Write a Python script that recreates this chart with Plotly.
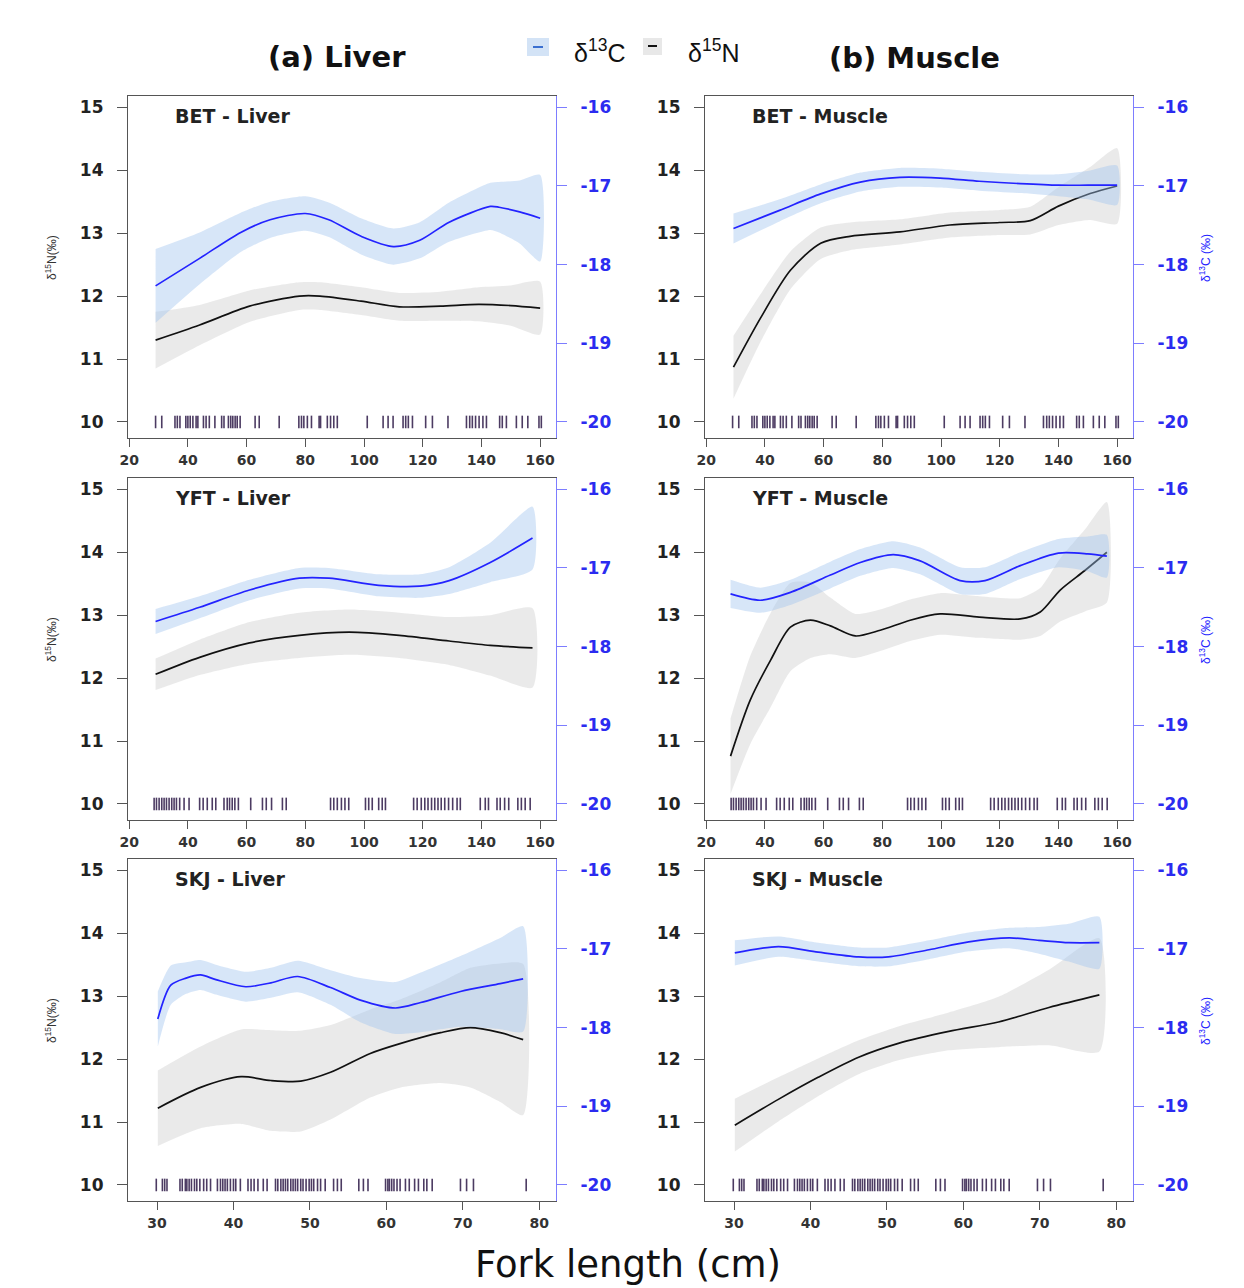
import plotly.graph_objects as go

W, H = 1244, 1288

# ---------------- data ----------------
RUG_BET = [29.0, 31.1, 35.6, 36.4, 37.3, 39.3, 40.0, 40.8, 41.7, 42.8, 43.4, 45.3, 46.2, 47.3, 49.2, 51.5,
           52.3, 53.8, 54.6, 55.3, 56.1, 56.8, 57.8, 62.9, 64.3, 71.1, 77.8, 78.7, 79.5, 80.7, 82.1,
           84.7, 85.2, 87.5, 88.6, 89.7, 90.9, 101.1, 106.5, 108.2, 109.9, 113.3, 114.2, 115.1,
           116.5, 121.0, 123.3, 128.6, 134.9, 136.0, 136.9, 138.0, 139.2, 140.5, 141.7, 146.2,
           147.1, 148.5, 151.9, 153.9, 155.8, 159.6, 160.4]
RUG_YFT = [28.5, 29.3, 30.2, 31.1, 31.9, 32.7, 33.6, 34.5, 35.3, 36.1, 37.2, 38.7, 40.4, 44.0, 45.2,
           46.6, 48.3, 49.5, 52.3, 53.4, 54.2, 55.1, 56.0, 57.2, 61.4, 65.4, 66.7, 68.5, 72.2, 73.5,
           88.6, 89.7, 90.9, 92.3, 93.5, 94.8, 100.5, 101.6, 102.8, 105.0, 106.2, 107.3, 116.9,
           118.1, 119.5, 120.7, 121.8, 123.0, 124.1, 125.2, 126.3, 127.5, 128.8, 130.2, 131.7,
           132.8, 139.6, 141.3, 142.4, 145.3, 146.4, 147.9, 149.3, 152.4, 153.6, 154.9, 156.6]
RUG_SKJ = [29.9, 30.7, 31.0, 31.3, 33.0, 33.3, 33.7, 33.9, 34.2, 34.5, 34.9, 35.2, 35.6, 36.1, 36.5,
           37.0, 37.9, 38.3, 38.6, 38.9, 39.2, 39.6, 40.0, 40.3, 40.9, 41.9, 42.3, 42.7, 43.2, 43.9,
           44.4, 45.5, 45.8, 46.2, 46.5, 46.8, 47.1, 47.5, 47.8, 48.1, 48.4, 48.8, 49.1, 49.5, 49.9,
           50.2, 50.5, 51.0, 51.4, 52.0, 53.1, 53.6, 54.1, 56.4, 57.0, 57.6, 59.9, 60.2, 60.4, 60.7,
           61.0, 61.4, 61.8, 62.5, 63.0, 63.7, 64.2, 64.9, 65.3, 66.0, 69.7, 70.5, 71.4, 78.3]

# BET - Liver
BL_XC = [29, 44, 58, 68, 80, 88, 99, 110, 119, 129, 143, 146, 153, 160]
BL_C = [-18.27, -17.92, -17.59, -17.43, -17.35, -17.43, -17.64, -17.77, -17.69, -17.46, -17.26, -17.27, -17.33, -17.41]
BL_CSE = [0.47, 0.33, 0.25, 0.23, 0.22, 0.22, 0.23, 0.23, 0.23, 0.25, 0.30, 0.32, 0.40, 0.55]
BL_XN = [29, 44, 61, 78, 85, 99, 112, 126, 139, 150, 160]
BL_N = [11.30, 11.54, 11.84, 12.00, 12.00, 11.92, 11.83, 11.84, 11.87, 11.85, 11.81]
BL_NSE = [0.45, 0.32, 0.25, 0.22, 0.22, 0.22, 0.22, 0.23, 0.27, 0.32, 0.42]

# BET - Muscle
BM_XC = [29.3, 45, 59, 72.5, 86, 99.7, 113, 127, 140, 150, 160]
BM_C = [-17.54, -17.31, -17.10, -16.95, -16.89, -16.90, -16.94, -16.97, -16.99, -16.99, -16.99]
BM_CSE = [0.19, 0.14, 0.12, 0.12, 0.12, 0.12, 0.12, 0.12, 0.14, 0.18, 0.25]
BM_XN = [29.3, 38.5, 48.7, 59, 69, 86, 103, 120, 130.4, 140, 150.8, 160]
BM_N = [10.87, 11.65, 12.41, 12.84, 12.95, 13.02, 13.13, 13.17, 13.20, 13.43, 13.63, 13.75]
BM_NSE = [0.5, 0.38, 0.3, 0.25, 0.22, 0.2, 0.2, 0.2, 0.22, 0.3, 0.42, 0.6]

# YFT - Liver
YL_XC = [29, 44, 61, 78, 88, 105, 119, 129, 143, 157.4]
YL_C = [-17.68, -17.50, -17.28, -17.13, -17.13, -17.22, -17.23, -17.16, -16.93, -16.62]
YL_CSE = [0.16, 0.14, 0.13, 0.13, 0.13, 0.14, 0.15, 0.17, 0.25, 0.40]
YL_XN = [29, 44, 61, 78, 95, 112, 129, 143, 157.4]
YL_N = [12.06, 12.33, 12.56, 12.68, 12.73, 12.68, 12.59, 12.52, 12.48]
YL_NSE = [0.25, 0.28, 0.33, 0.36, 0.36, 0.36, 0.38, 0.48, 0.63]

# YFT - Muscle
YM_XC = [28.3, 38.5, 48.7, 62.3, 72.5, 83.7, 92.9, 106.5, 115, 127, 140, 150, 156.5]
YM_C = [-17.33, -17.41, -17.31, -17.09, -16.93, -16.83, -16.91, -17.16, -17.16, -16.97, -16.81, -16.82, -16.85]
YM_CSE = [0.18, 0.16, 0.16, 0.17, 0.17, 0.17, 0.17, 0.17, 0.17, 0.17, 0.18, 0.22, 0.27]
YM_XN = [28.3, 35, 42, 48.7, 55.5, 62.3, 70.8, 79.3, 89.5, 99.7, 113, 127, 133.8, 140.6, 149, 156.5]
YM_N = [10.76, 11.65, 12.29, 12.81, 12.92, 12.83, 12.67, 12.76, 12.92, 13.02, 12.97, 12.94, 13.05, 13.40, 13.71, 14.0]
YM_NSE = [0.6, 0.7, 0.75, 0.7, 0.6, 0.45, 0.35, 0.33, 0.33, 0.33, 0.33, 0.33, 0.38, 0.5, 0.65, 0.8]

# SKJ - Liver
SL_XC = [30.1, 31.8, 33.8, 35.7, 37.7, 41.6, 44.9, 48.4, 52.7, 56.6, 61.2, 64.5, 69.7, 74.9, 77.9]
SL_C = [-17.89, -17.46, -17.37, -17.33, -17.39, -17.48, -17.43, -17.35, -17.49, -17.65, -17.75, -17.68, -17.54, -17.44, -17.38]
SL_CSE = [0.35, 0.25, 0.2, 0.19, 0.19, 0.19, 0.19, 0.2, 0.22, 0.28, 0.33, 0.38, 0.45, 0.58, 0.67]
SL_XN = [30.1, 35.7, 41, 44.9, 48.8, 52.7, 57.9, 61.9, 67.1, 71, 74.9, 77.9]
SL_N = [11.22, 11.55, 11.72, 11.66, 11.65, 11.79, 12.09, 12.25, 12.42, 12.50, 12.42, 12.31]
SL_NSE = [0.6, 0.65, 0.75, 0.8, 0.8, 0.75, 0.7, 0.7, 0.8, 0.95, 1.1, 1.2]

# SKJ - Muscle
SM_XC = [30.1, 35.8, 41, 46.3, 50.2, 55.5, 60.7, 66, 69.9, 73.8, 77.8]
SM_C = [-17.05, -16.97, -17.04, -17.10, -17.10, -17.01, -16.91, -16.86, -16.89, -16.92, -16.92]
SM_CSE = [0.16, 0.13, 0.12, 0.12, 0.12, 0.12, 0.12, 0.13, 0.17, 0.24, 0.33]
SM_XN = [30.1, 35.8, 41, 46.3, 51.5, 58.1, 64.6, 71.2, 77.8]
SM_N = [10.95, 11.36, 11.71, 12.03, 12.25, 12.44, 12.59, 12.82, 13.02]
SM_NSE = [0.42, 0.35, 0.3, 0.27, 0.27, 0.3, 0.4, 0.6, 0.9]

N_TICKS = [10, 11, 12, 13, 14, 15]
C_TICKS = [-20, -19, -18, -17, -16]
X_TICKS_LONG = [20, 40, 60, 80, 100, 120, 140, 160]
X_TICKS_SHORT = [30, 40, 50, 60, 70, 80]

PANELS = [
    dict(label="BET - Liver", row=0, col=0, xc=BL_XC, c=BL_C, cse=BL_CSE, xn=BL_XN, n=BL_N, nse=BL_NSE, rug=RUG_BET),
    dict(label="BET - Muscle", row=0, col=1, xc=BM_XC, c=BM_C, cse=BM_CSE, xn=BM_XN, n=BM_N, nse=BM_NSE, rug=RUG_BET),
    dict(label="YFT - Liver", row=1, col=0, xc=YL_XC, c=YL_C, cse=YL_CSE, xn=YL_XN, n=YL_N, nse=YL_NSE, rug=RUG_YFT),
    dict(label="YFT - Muscle", row=1, col=1, xc=YM_XC, c=YM_C, cse=YM_CSE, xn=YM_XN, n=YM_N, nse=YM_NSE, rug=RUG_YFT),
    dict(label="SKJ - Liver", row=2, col=0, xc=SL_XC, c=SL_C, cse=SL_CSE, xn=SL_XN, n=SL_N, nse=SL_NSE, rug=RUG_SKJ),
    dict(label="SKJ - Muscle", row=2, col=1, xc=SM_XC, c=SM_C, cse=SM_CSE, xn=SM_XN, n=SM_N, nse=SM_NSE, rug=RUG_SKJ),
]

# ---------------- layout geometry (pixels) ----------------
COL_LEFT = [128, 705]
BOX_W = 428
ROW_TOP = [96, 478, 859]
BOX_H = 342
N_RANGE = [9.745, 15.18]
C_RANGE = [-20 + (N_RANGE[0] - 10) * 0.8, -20 + (N_RANGE[1] - 10) * 0.8]

BLUE = "#2323ff"
BLUE_TXT = "#2b2bf0"
BLUE_AXIS = "#7d7dff"
BLUE_BAND = "rgba(160,195,238,0.42)"
GRAY_BAND = "rgba(200,200,200,0.38)"
FONT = "Liberation Sans, Arial, sans-serif"
WFONT = "DejaVu Sans, Liberation Sans, sans-serif"

fig = go.Figure()
layout = {}
annotations = []
shapes = []


def px(x):
    return x / W


def py(y):
    return 1 - y / H


for i, p in enumerate(PANELS):
    xa = "x" if i == 0 else f"x{i+1}"
    yl_n, yr_n = 2 * i + 1, 2 * i + 2
    yl = "y" if yl_n == 1 else f"y{yl_n}"
    yr = f"y{yr_n}"

    upper_n = [v + s for v, s in zip(p["n"], p["nse"])]
    lower_n = [v - s for v, s in zip(p["n"], p["nse"])]
    upper_c = [v + s for v, s in zip(p["c"], p["cse"])]
    lower_c = [v - s for v, s in zip(p["c"], p["cse"])]

    fig.add_trace(go.Scatter(x=p["xn"] + p["xn"][::-1], y=upper_n + lower_n[::-1], fill="toself",
                             fillcolor=GRAY_BAND, line=dict(width=0, shape="spline", smoothing=0.6),
                             mode="lines", hoverinfo="skip", showlegend=False, xaxis=xa, yaxis=yl))
    fig.add_trace(go.Scatter(x=p["xn"], y=p["n"], mode="lines",
                             line=dict(color="#111111", width=1.7, shape="spline", smoothing=0.8),
                             showlegend=False, xaxis=xa, yaxis=yl))
    fig.add_trace(go.Scatter(x=p["rug"], y=[10] * len(p["rug"]), mode="markers",
                             marker=dict(symbol="line-ns", size=9, line=dict(width=1.6, color="rgba(45,25,70,0.85)")),
                             showlegend=False, xaxis=xa, yaxis=yl))
    fig.add_trace(go.Scatter(x=p["xc"] + p["xc"][::-1], y=upper_c + lower_c[::-1], fill="toself",
                             fillcolor=BLUE_BAND, line=dict(width=0, shape="spline", smoothing=0.6),
                             mode="lines", hoverinfo="skip", showlegend=False, xaxis=xa, yaxis=yr))
    fig.add_trace(go.Scatter(x=p["xc"], y=p["c"], mode="lines",
                             line=dict(color=BLUE, width=1.7, shape="spline", smoothing=0.8),
                             showlegend=False, xaxis=xa, yaxis=yr))

    x0 = COL_LEFT[p["col"]]
    y0 = ROW_TOP[p["row"]]
    xdom = [px(x0), px(x0 + BOX_W)]
    ydom = [py(y0 + BOX_H), py(y0)]
    if p["row"] < 2:
        xr, xt = [19.6, 165.4], X_TICKS_LONG
    else:
        xr, xt = [26.2, 82.2], X_TICKS_SHORT

    layout["xaxis" if i == 0 else f"xaxis{i+1}"] = dict(
        domain=xdom, range=xr, anchor=yl, tickvals=xt, showline=True, mirror=True,
        linecolor="#555555", linewidth=1.2, ticks="outside", ticklen=8, tickcolor="#555555",
        tickfont=dict(size=14, color="#333333", family=WFONT, weight="bold"),
        showgrid=False, zeroline=False, ticklabelstandoff=1, automargin=False)
    layout["yaxis" if yl_n == 1 else f"yaxis{yl_n}"] = dict(
        domain=ydom, range=N_RANGE, anchor=xa, tickvals=N_TICKS, showline=True, mirror=True,
        linecolor="#555555", linewidth=1.2, ticks="outside", ticklen=10, tickcolor="#555555",
        tickfont=dict(size=17, color="#222222", family=WFONT, weight="bold"),
        showgrid=False, zeroline=False, ticklabelstandoff=10, automargin=False)
    layout[f"yaxis{yr_n}"] = dict(
        domain=ydom, range=C_RANGE, anchor=xa, overlaying=yl, side="right",
        tickvals=C_TICKS, ticktext=[str(v) for v in C_TICKS], showline=True, linecolor=BLUE_AXIS,
        linewidth=1.2, ticks="outside", ticklen=10, tickcolor=BLUE_AXIS,
        tickfont=dict(size=17, color=BLUE_TXT, family=WFONT, weight="bold"),
        showgrid=False, zeroline=False, ticklabelstandoff=10, automargin=False)

    annotations.append(dict(x=px(x0 + 45), y=py(y0 + 20), xref="paper", yref="paper", text=p["label"],
                            showarrow=False, xanchor="left", yanchor="middle",
                            font=dict(size=19, color="#222222", family=WFONT, weight="bold")))
    yc = y0 + BOX_H / 2 - 9
    if p["col"] == 0:
        annotations.append(dict(x=px(51), y=py(yc), xref="paper", yref="paper",
                                text="δ<sup>15</sup>N(‰)", textangle=-90, showarrow=False,
                                xanchor="center", yanchor="middle",
                                font=dict(size=12, color="#333333", family=FONT)))
    else:
        annotations.append(dict(x=px(1205), y=py(yc), xref="paper", yref="paper",
                                text="δ<sup>13</sup>C (‰)", textangle=-90, showarrow=False,
                                xanchor="center", yanchor="middle",
                                font=dict(size=12, color=BLUE, family=FONT)))

# column titles
annotations.append(dict(x=px(337), y=py(57), xref="paper", yref="paper", text="(a) Liver",
                        showarrow=False, xanchor="center", yanchor="middle",
                        font=dict(size=29, color="#111111", family=WFONT, weight="bold")))
annotations.append(dict(x=px(914), y=py(58), xref="paper", yref="paper", text="(b) Muscle",
                        showarrow=False, xanchor="center", yanchor="middle",
                        font=dict(size=29, color="#111111", family=WFONT, weight="bold")))
# common x title
annotations.append(dict(x=px(628), y=py(1264), xref="paper", yref="paper", text="Fork length (cm)",
                        showarrow=False, xanchor="center", yanchor="middle",
                        font=dict(size=37, color="#111111", family=WFONT)))
# legend
shapes.append(dict(type="rect", xref="paper", yref="paper", x0=px(527), x1=px(549), y0=py(56), y1=py(38),
                   fillcolor="#d3e3f6", line=dict(width=0)))
shapes.append(dict(type="line", xref="paper", yref="paper", x0=px(533), x1=px(543), y0=py(47), y1=py(47),
                   line=dict(color="#3a6fd0", width=2)))
shapes.append(dict(type="rect", xref="paper", yref="paper", x0=px(643), x1=px(662), y0=py(55), y1=py(38),
                   fillcolor="#e8e8e8", line=dict(width=0)))
shapes.append(dict(type="line", xref="paper", yref="paper", x0=px(648), x1=px(657), y0=py(46), y1=py(46),
                   line=dict(color="#111111", width=2)))
annotations.append(dict(x=px(572), y=py(51), xref="paper", yref="paper", text="δ<sup>13</sup>C",
                        xanchor="left", yanchor="middle", showarrow=False,
                        font=dict(size=25, color="#111111", family=FONT)))
annotations.append(dict(x=px(686), y=py(51), xref="paper", yref="paper", text="δ<sup>15</sup>N",
                        xanchor="left", yanchor="middle", showarrow=False,
                        font=dict(size=25, color="#111111", family=FONT)))

fig.update_layout(
    width=W, height=H, margin=dict(l=0, r=0, t=0, b=0),
    paper_bgcolor="white", plot_bgcolor="white", showlegend=False,
    annotations=annotations, shapes=shapes, font=dict(family=FONT),
    **layout)

fig.write_html("out.html")
